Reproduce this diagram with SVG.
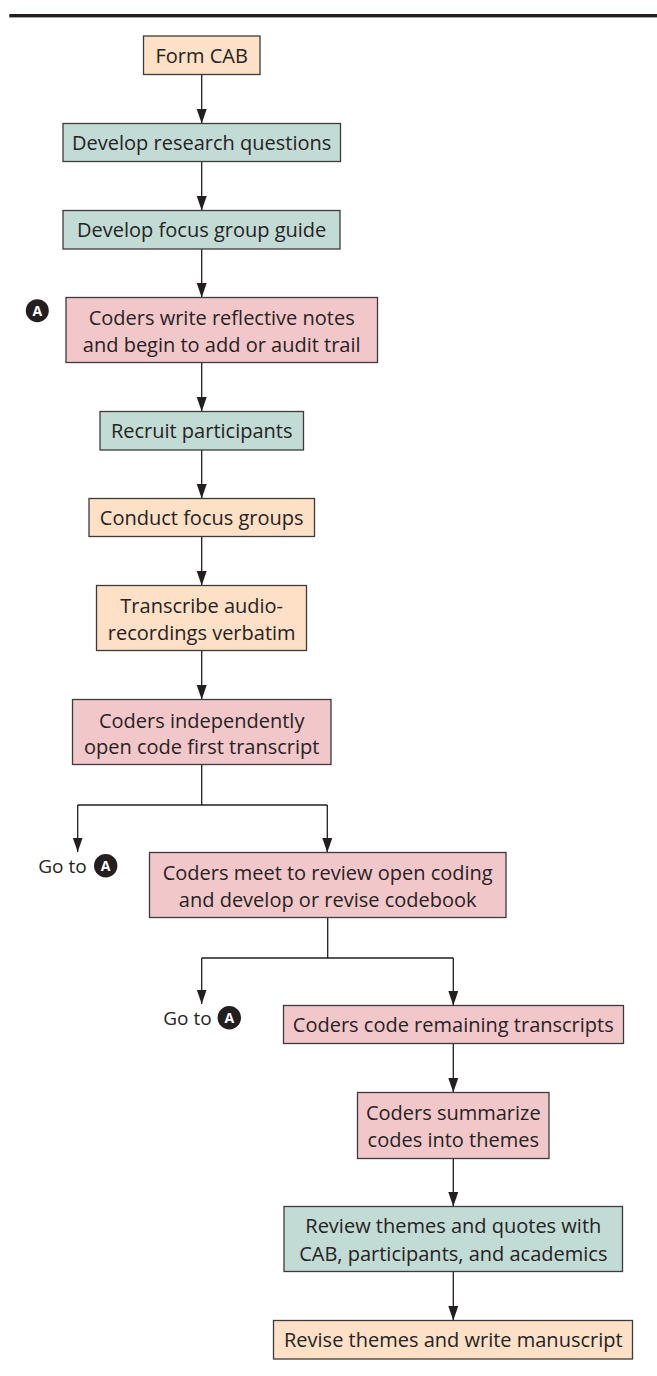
<svg xmlns="http://www.w3.org/2000/svg" width="657" height="1376" viewBox="0 0 657 1376">
  <style>
    .box { stroke: #3d3b3c; stroke-width: 1.3; }
    .peach { fill: #fde0c6; }
    .teal { fill: #c2dbd4; }
    .pink { fill: #f2c7ca; }
    .txt { font-family: "Open Sans", "Noto Sans", "DejaVu Sans", sans-serif; font-size: 20px; fill: #262324; text-anchor: middle; }
    .goto { font-family: "Open Sans", "Noto Sans", "DejaVu Sans", sans-serif; font-size: 19px; fill: #262324; }
    .badge { fill: #231f20; }
    .badgetxt { font-family: "Open Sans", "Noto Sans", "DejaVu Sans", sans-serif; font-size: 14px; font-weight: bold; fill: #ffffff; text-anchor: middle; }
    .conn { fill: none; stroke: #231f20; stroke-width: 1.3; }
    .arr { marker-end: url(#ah); }
  </style>
  <defs>
    <marker id="ah" markerUnits="userSpaceOnUse" markerWidth="15" markerHeight="11" refX="14.5" refY="5" orient="auto">
      <path d="M0,0 L14.5,5 L0,10 Z" fill="#231f20"/>
    </marker>
  </defs>

  <rect x="9.3" y="14" width="647.7" height="3.4" fill="#231f20"/>

  <g id="connectors">
    <path class="conn arr" d="M201.7,74.5 V123.5"/>
    <path class="conn arr" d="M201.7,161.5 V210.5"/>
    <path class="conn arr" d="M201.7,249 V297.5"/>
    <path class="conn arr" d="M201.7,362.5 V411.5"/>
    <path class="conn arr" d="M201.7,450 V498.5"/>
    <path class="conn arr" d="M201.7,536.5 V585.5"/>
    <path class="conn arr" d="M201.7,650.5 V699.5"/>
    <path class="conn" d="M201.7,764.5 V805 M77.7,805 H327.3"/>
    <path class="conn arr" d="M77.7,805 V852"/>
    <path class="conn arr" d="M327.3,805 V852.5"/>
    <path class="conn" d="M327.7,917.5 V958 M201.7,958 H453.3"/>
    <path class="conn arr" d="M201.7,958 V1004"/>
    <path class="conn arr" d="M453.3,958 V1005.5"/>
    <path class="conn arr" d="M453.3,1043.5 V1092.5"/>
    <path class="conn arr" d="M453.3,1158.5 V1206.5"/>
    <path class="conn arr" d="M453.3,1271.5 V1320.5"/>
  </g>

  <g id="n1">
    <rect class="box peach" x="143.5" y="36" width="116.5" height="38.5"/>
    <text class="txt" x="201.7" y="62.7">Form CAB</text>
  </g>
  <g id="n2">
    <rect class="box teal" x="63" y="123.5" width="277.5" height="38"/>
    <text class="txt" x="201.7" y="150">Develop research questions</text>
  </g>
  <g id="n3">
    <rect class="box teal" x="63" y="210.5" width="277" height="38.5"/>
    <text class="txt" x="201.7" y="237.4">Develop focus group guide</text>
  </g>
  <g id="badgeA">
    <circle class="badge" cx="37.3" cy="310.7" r="11.5"/>
    <text class="badgetxt" x="37.3" y="315.8">A</text>
  </g>
  <g id="n4">
    <rect class="box pink" x="66" y="297.5" width="311.5" height="65"/>
    <text class="txt" x="221.7" y="325">Coders write reflective notes</text>
    <text class="txt" x="221.7" y="351.7">and begin to add or audit trail</text>
  </g>
  <g id="n5">
    <rect class="box teal" x="100" y="411.5" width="203.5" height="38.5"/>
    <text class="txt" x="201.7" y="438.4">Recruit participants</text>
  </g>
  <g id="n6">
    <rect class="box peach" x="89" y="498.5" width="225.5" height="38"/>
    <text class="txt" x="201.7" y="525">Conduct focus groups</text>
  </g>
  <g id="n7">
    <rect class="box peach" x="96.5" y="585.5" width="210" height="65"/>
    <text class="txt" x="201.7" y="613.3">Transcribe audio-</text>
    <text class="txt" x="201.7" y="640">recordings verbatim</text>
  </g>
  <g id="n8">
    <rect class="box pink" x="72.5" y="699.5" width="258.5" height="65"/>
    <text class="txt" x="201.7" y="727.5">Coders independently</text>
    <text class="txt" x="201.7" y="754">open code first transcript</text>
  </g>
  <g id="goto1">
    <text class="goto" x="38.3" y="872.7">Go to</text>
    <circle class="badge" cx="105.7" cy="865.7" r="11.7"/>
    <text class="badgetxt" x="105.7" y="870.8">A</text>
  </g>
  <g id="n9">
    <rect class="box pink" x="149.5" y="852.5" width="356.5" height="65"/>
    <text class="txt" x="327.7" y="880">Coders meet to review open coding</text>
    <text class="txt" x="327.7" y="906.7">and develop or revise codebook</text>
  </g>
  <g id="goto2">
    <text class="goto" x="163.3" y="1024.5">Go to</text>
    <circle class="badge" cx="229.3" cy="1017.7" r="11.7"/>
    <text class="badgetxt" x="229.3" y="1022.8">A</text>
  </g>
  <g id="n10">
    <rect class="box pink" x="283.5" y="1005.5" width="340" height="38"/>
    <text class="txt" x="453.3" y="1032">Coders code remaining transcripts</text>
  </g>
  <g id="n11">
    <rect class="box pink" x="357.5" y="1092.5" width="191.5" height="66"/>
    <text class="txt" x="453.3" y="1120">Coders summarize</text>
    <text class="txt" x="453.3" y="1146.7">codes into themes</text>
  </g>
  <g id="n12">
    <rect class="box teal" x="284" y="1206.5" width="338.5" height="65"/>
    <text class="txt" x="453.3" y="1233.3">Review themes and quotes with</text>
    <text class="txt" x="453.3" y="1260.7">CAB, participants, and academics</text>
  </g>
  <g id="n13">
    <rect class="box peach" x="273.5" y="1320.5" width="359" height="38.5"/>
    <text class="txt" x="453.3" y="1347.4">Revise themes and write manuscript</text>
  </g>
</svg>
